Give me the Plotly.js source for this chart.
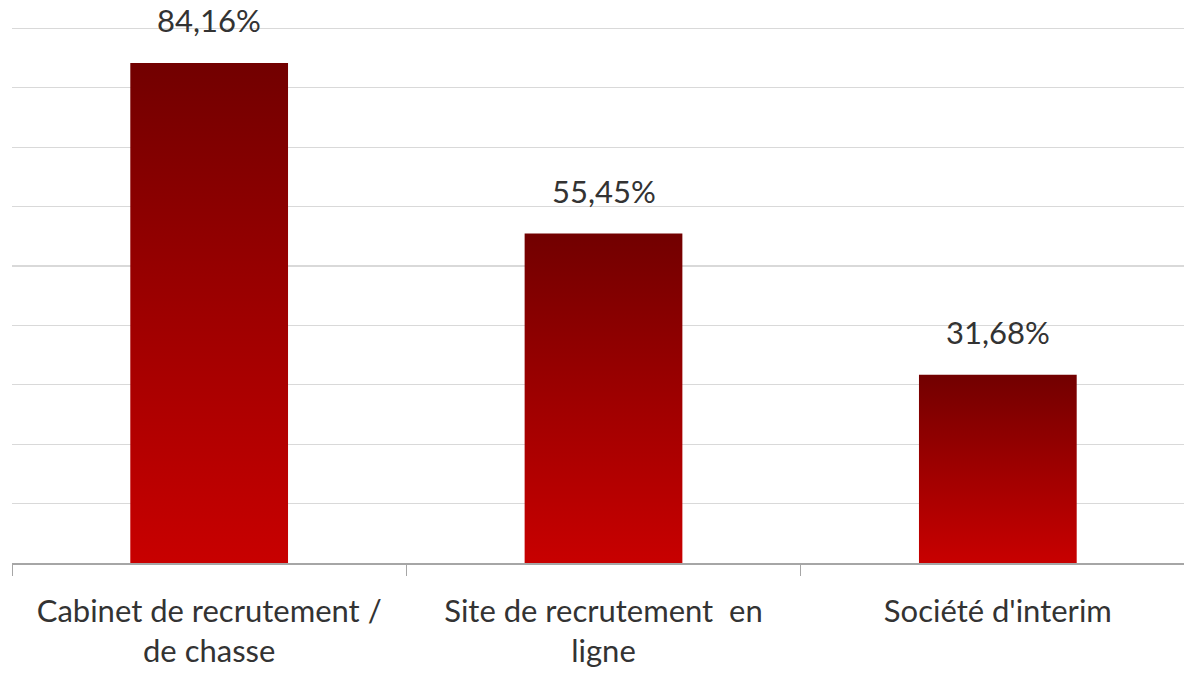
<!DOCTYPE html>
<html>
<head>
<meta charset="utf-8">
<script src="https://cdn.plot.ly/plotly-3.0.1.min.js"></script>
<style>
  html, body { margin: 0; padding: 0; background: #fff; overflow: hidden; }
  #chart { width: 1195px; height: 677px; }
</style>
</head>
<body>
<div id="chart"></div>
<script>
// Canaux de recrutement utilises (en % des repondants)
const categories = ["Cabinet de recrutement /<br>de chasse", "Site de recrutement  en<br>ligne", "Société d'interim"];
const valeurs = [84.16, 55.45, 31.68];
const etiquettes = valeurs.map((v) => v.toFixed(2).replace(".", ",") + "%");

const police = "Lato, 'Open Sans', sans-serif";
const couleurTexte = "#333333";

const trace = {
  type: "bar",
  x: categories,
  y: valeurs,
  marker: { color: "#a80000", line: { width: 0 } },
  hoverinfo: "skip",
};

const layout = {
  width: 1195, height: 677,
  margin: { l: 12, r: 0, t: 26, b: 114 },
  paper_bgcolor: "#fff", plot_bgcolor: "#fff",
  bargap: 0.6,
  showlegend: false,
  font: { family: police, size: 31, color: couleurTexte },
  xaxis: {
    type: "category",
    showline: true, linecolor: "#a6a6a6", linewidth: 1.5,
    ticks: "outside", tickson: "boundaries", ticklen: 11, tickcolor: "#a6a6a6", tickwidth: 1,
    ticklabelstandoff: 20,
    showgrid: false, zeroline: false,
    tickfont: { family: police, size: 31, color: couleurTexte },
  },
  yaxis: {
    range: [0, 90.4], dtick: 10,
    showticklabels: false, showgrid: true, gridcolor: "#d9d9d9", gridwidth: 1.3,
    zeroline: false, showline: false, fixedrange: true,
  },
  // etiquettes de valeur au-dessus des barres
  annotations: valeurs.map((v, i) => ({
    x: categories[i], y: v, xref: "x", yref: "y",
    text: etiquettes[i], showarrow: false,
    yanchor: "bottom", yshift: 22,
    font: { family: police, size: 31, color: couleurTexte },
  })),
};

Plotly.newPlot("chart", [trace], layout, { staticPlot: true }).then((gd) => {
  // degrade vertical (rouge fonce en haut, rouge vif en bas)
  const svg = gd.querySelector(".main-svg");
  const ns = "http://www.w3.org/2000/svg";
  let defs = svg.querySelector("defs");
  if (!defs) { defs = document.createElementNS(ns, "defs"); svg.prepend(defs); }
  const grad = document.createElementNS(ns, "linearGradient");
  grad.setAttribute("id", "degradeRouge");
  grad.setAttribute("x1", "0"); grad.setAttribute("y1", "0");
  grad.setAttribute("x2", "0"); grad.setAttribute("y2", "1");
  [["0", "#720000"], ["0.5", "#9e0000"], ["1", "#c80000"]].forEach(([o, c]) => {
    const s = document.createElementNS(ns, "stop");
    s.setAttribute("offset", o); s.setAttribute("stop-color", c);
    grad.appendChild(s);
  });
  defs.appendChild(grad);
  gd.querySelectorAll(".trace.bars .point path").forEach((p) => {
    p.style.fill = "url(#degradeRouge)";
  });
});
</script>
</body>
</html>
